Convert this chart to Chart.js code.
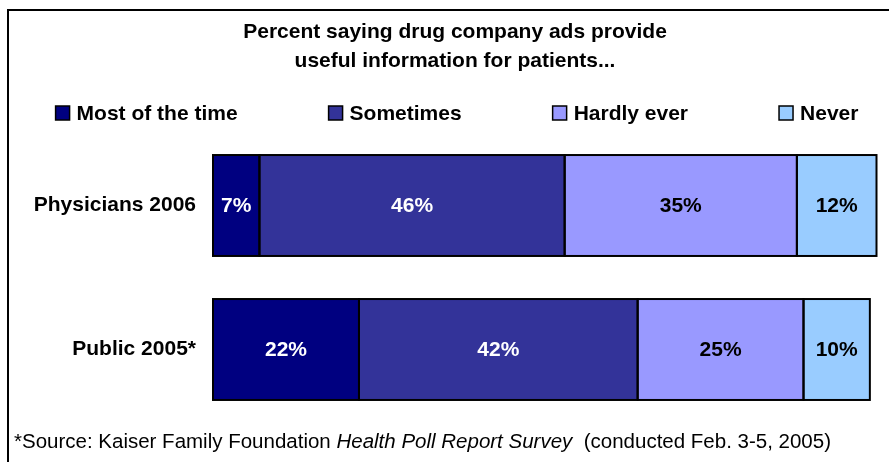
<!DOCTYPE html>
<html>
<head>
<meta charset="utf-8">
<script src="https://cdn.jsdelivr.net/npm/chart.js@4"></script>
<style>
  html, body { margin: 0; padding: 0; background: #fff; }
  canvas { display: block; }
</style>
</head>
<body>
<canvas id="myChart" width="889" height="462"></canvas>
<script>
// Survey groups and answer shares (percent)
const groups = ['Physicians 2006', 'Public 2005*']
const answers = ['Most of the time', 'Sometimes', 'Hardly ever', 'Never']
const mostOfTheTime = [7, 22]
const sometimes = [46, 42]
const hardlyEver = [35, 25]
const never = [12, 10]

const colors = ['#000080', '#333399', '#9999ff', '#99ccff']
const valueColors = ['#ffffff', '#ffffff', '#000000', '#000000']
const FONT = '"Liberation Sans", Arial, Helvetica, sans-serif'

Chart.defaults.font.family = FONT
Chart.defaults.color = '#000'

// frame round the picture (cut off on the right and at the bottom)
const frame = {
  id: 'frame',
  beforeDraw(chart) {
    const c = chart.ctx
    c.save()
    c.strokeStyle = '#000'
    c.lineWidth = 2
    c.beginPath()
    c.moveTo(8, chart.height + 2)
    c.lineTo(8, 10)
    c.lineTo(chart.width + 2, 10)
    c.stroke()
    c.restore()
  }
}

// one-row legend with wide gaps, centred
const legendRow = {
  id: 'legendRow',
  afterDraw(chart) {
    const c = chart.ctx
    c.save()
    c.font = `bold 21px ${FONT}`
    c.textBaseline = 'middle'
    const box = 14, gap = 7, spacing = 91, y = 113
    const items = chart.data.datasets.map(ds => ({
      text: ds.label,
      color: ds.backgroundColor,
      w: box + gap + c.measureText(ds.label).width
    }))
    const total = items.reduce((s, it) => s + it.w, 0) + spacing * (items.length - 1)
    let x = 457 - total / 2
    items.forEach(it => {
      c.fillStyle = it.color
      c.fillRect(x, y - box / 2, box, box)
      c.strokeStyle = '#000'
      c.lineWidth = 1.5
      c.strokeRect(x, y - box / 2, box, box)
      c.fillStyle = '#000'
      c.fillText(it.text, x + box + gap, y + 1)
      x += it.w + spacing
    })
    c.restore()
  }
}

// black outline on every segment (stroked on the edge, so seams stay one line)
// and the percent label in its middle
const barOutlinesAndValues = {
  id: 'barOutlinesAndValues',
  afterDatasetsDraw(chart) {
    const c = chart.ctx
    c.save()
    c.strokeStyle = '#000'
    c.lineWidth = 2
    chart.data.datasets.forEach((ds, i) => {
      chart.getDatasetMeta(i).data.forEach(bar => {
        const { x, y, base, height } = bar.getProps(['x', 'y', 'base', 'height'], true)
        c.strokeRect(base, y - height / 2, x - base, height)
      })
    })
    c.font = `bold 21px ${FONT}`
    c.textAlign = 'center'
    c.textBaseline = 'middle'
    chart.data.datasets.forEach((ds, i) => {
      chart.getDatasetMeta(i).data.forEach((bar, j) => {
        const p = bar.getCenterPoint()
        c.fillStyle = valueColors[i]
        c.fillText(ds.data[j] + '%', p.x, p.y + 1)
      })
    })
    c.restore()
  }
}

// source note, with the survey name in italics
const footnote = {
  id: 'footnote',
  afterDraw(chart) {
    const c = chart.ctx
    const parts = [
      ['*Source: Kaiser Family Foundation ', 'normal'],
      ['Health Poll Report Survey', 'italic'],
      ['  (conducted Feb. 3-5, 2005)', 'normal']
    ]
    c.save()
    c.fillStyle = '#000'
    c.textBaseline = 'middle'
    let x = 14
    parts.forEach(([text, style]) => {
      c.font = `${style} 20.5px ${FONT}`
      c.fillText(text, x, 442)
      x += c.measureText(text).width
    })
    c.restore()
  }
}

const seriesValues = [mostOfTheTime, sometimes, hardlyEver, never]

const ctx = document.getElementById('myChart').getContext('2d')

const myChart = new Chart(ctx, {
  type: 'bar',
  data: {
    labels: groups,
    datasets: seriesValues.map((values, i) => ({
      label: answers[i],
      data: values,
      backgroundColor: colors[i],
      borderWidth: 0,
      categoryPercentage: 1,
      barPercentage: 0.701
    }))
  },
  options: {
    indexAxis: 'y',
    responsive: false,
    animation: false,
    devicePixelRatio: 1,
    layout: { padding: { top: 17.5, left: 33.5, right: 12.5, bottom: 40.5 } },
    scales: {
      x: { stacked: true, min: 0, max: 100, display: false },
      y: {
        stacked: true,
        grid: { display: false, drawTicks: false },
        border: { display: false },
        ticks: { padding: 17, color: '#000', font: { size: 21, weight: 'bold' } },
        afterFit(scale) { scale.width = 179.5 }
      }
    },
    plugins: {
      legend: { display: false },
      tooltip: { enabled: false },
      title: {
        display: true,
        text: ['Percent saying drug company ads provide', 'useful information for patients...'],
        color: '#000',
        font: { size: 21, weight: 'bold', lineHeight: '29px' },
        padding: { top: 0, bottom: 58 }
      }
    }
  },
  plugins: [frame, legendRow, barOutlinesAndValues, footnote]
})
</script>
</body>
</html>
